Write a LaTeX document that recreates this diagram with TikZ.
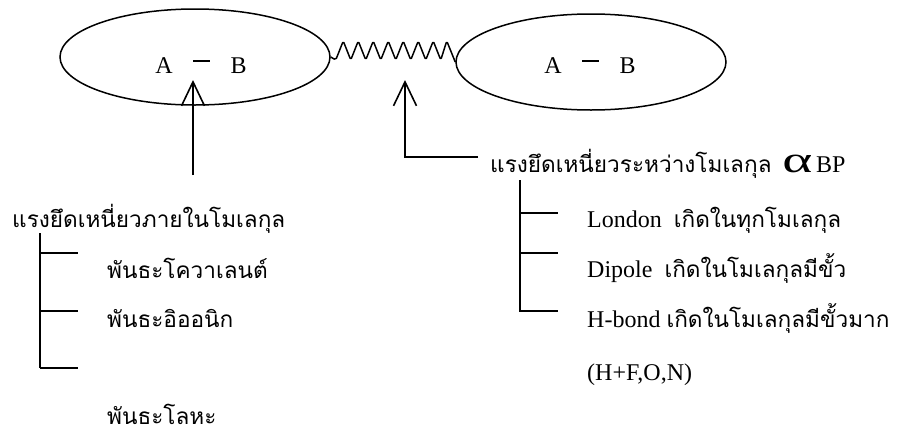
\documentclass[tikz,border=0pt]{standalone}
\usepackage{fontspec}
\usepackage{graphicx}
\setmainfont{Liberation Serif}
\newfontfamily\thaifont[Script=Thai]{Loma}
\usetikzlibrary{shapes.geometric,arrows.meta}
\newcommand\thai[1]{{\thaifont\fontsize{22.6}{26}\selectfont #1}}
\newcommand\bondbar{\raisebox{0.45em}{\rule{0.72em}{2.6pt}}}
\begin{document}
\begin{tikzpicture}[x=1pt,y=-1pt,
  every node/.style={font=\fontsize{24}{28}\selectfont, inner sep=0pt},
  mol/.style={draw, ellipse, line width=1.5pt, minimum width=270pt, minimum height=96pt},
  lbl/.style={anchor=base west},
  ln/.style={line width=1.5pt},
  brk/.style={line width=2pt},
  arr/.style={line width=1.6pt, -{Straight Barb[length=24pt,width=23pt,line width=1.6pt]}}]
\useasboundingbox (0,0) rectangle (904,434);
% molecules
\node[mol] (ellL) at (195,57) {};
\node[mol] (ellR) at (591,62) {};
\node[anchor=base] (abL) at (201,73) {A\hspace{0.85em}\bondbar\hspace{0.85em}B};
\node[anchor=base] (abR) at (590,73) {A\hspace{0.85em}\bondbar\hspace{0.85em}B};
% spring between molecules
\draw[ln, line join=round, rounded corners=1.8pt] (ellL.east) -- ++(5,3)
  \foreach \i in {1,...,7} { -- ++(7.5,-19) -- ++(7.5,19) } -- ++(6,-19) -- (ellR.west);
% arrows
\coordinate (a1s) at (193,175);
\coordinate (a1t) at (193,80);
\draw[arr] (a1s) -- (a1t);
\coordinate (a2s) at (478,157);
\coordinate (a2c) at (405,157);
\coordinate (a2t) at (405,80);
\draw[arr] (a2s) -- (a2c) -- (a2t);
% left tree
\node[lbl] (tL) at (12,227) {\thai{แรงยึดเหนี่ยวภายในโมเลกุล}};
\coordinate (vL1) at (40,233);
\coordinate (vL2) at (40,368);
\coordinate (bL1) at (78,253);
\coordinate (bL2) at (78,311);
\coordinate (bL3) at (78,368);
\draw[brk] (vL1) -- (vL2);
\draw[brk] (40,253) -- (bL1);
\draw[brk] (40,311) -- (bL2);
\draw[brk] (vL2) -- (bL3);
\node[lbl] (cov) at (107,278) {\thai{พันธะโควาเลนต์}};
\node[lbl] (ion) at (107,327) {\thai{พันธะอิออนิก}};
\node[lbl] (met) at (107,424) {\thai{พันธะโลหะ}};
% right tree
\node[lbl] (tR) at (490,172) {\thai{แรงยึดเหนี่ยวระหว่างโมเลกุล}\hspace{0.45em}{\fontsize{37}{37}\selectfont\scalebox{1.55}[1]{α}}\hspace{0.15em}BP};
\coordinate (vR1) at (520,180);
\coordinate (vR2) at (520,312);
\coordinate (bR1) at (558,213);
\coordinate (bR2) at (558,253);
\coordinate (bR3) at (558,311);
\draw[brk] (vR1) -- (vR2);
\draw[brk] (520,213) -- (bR1);
\draw[brk] (520,253) -- (bR2);
\draw[brk] (520,311) -- (bR3);
\node[lbl] (lon) at (587,227) {London\ \ \thai{เกิดในทุกโมเลกุล}};
\node[lbl] (dip) at (587,277) {Dipole\ \ \thai{เกิดในโมเลกุลมีขั้ว}};
\node[lbl] (hb) at (587,327) {H-bond\ \thai{เกิดในโมเลกุลมีขั้วมาก}};
\node[lbl] (hfon) at (587,380) {(H+F,O,N)};
\end{tikzpicture}
\end{document}
